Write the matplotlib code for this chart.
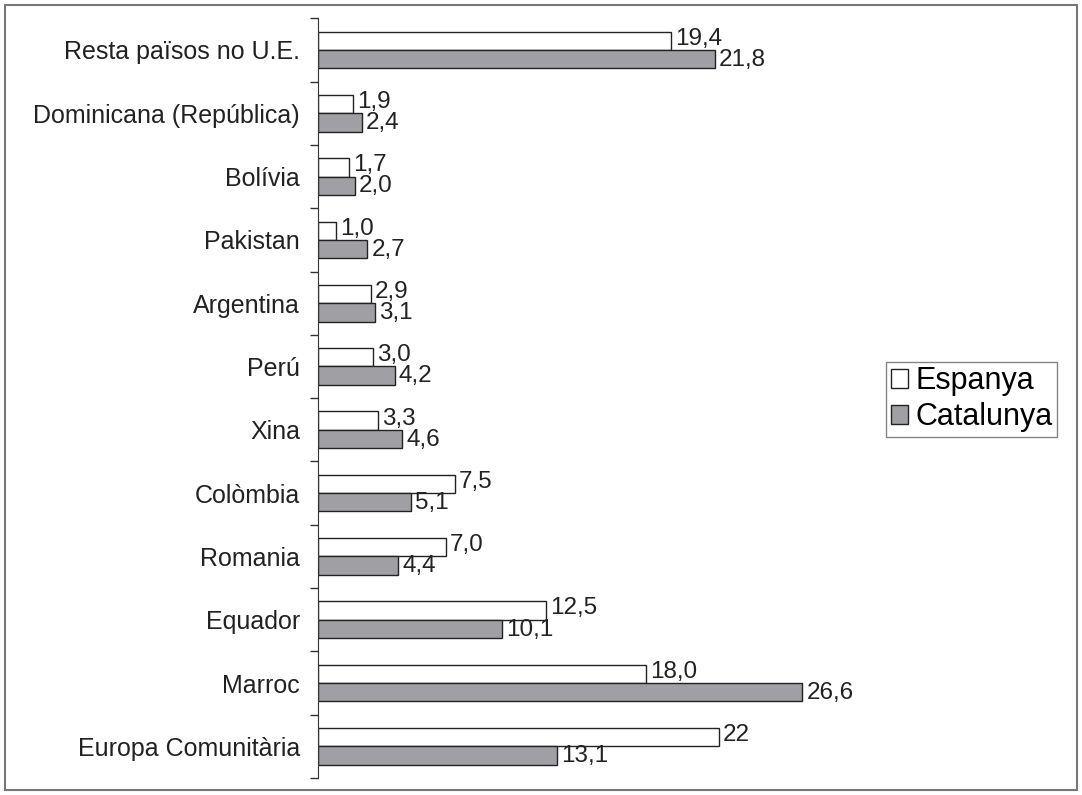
import matplotlib.pyplot as plt
from matplotlib.patches import Rectangle
import numpy as np

plt.rcParams['font.family'] = ['Liberation Sans', 'DejaVu Sans']

# categories from bottom to top
categories = ['Europa Comunitària', 'Marroc', 'Equador', 'Romania', 'Colòmbia',
              'Xina', 'Perú', 'Argentina', 'Pakistan', 'Bolívia',
              'Dominicana (República)', 'Resta països no U.E.']
espanya = [22, 18.0, 12.5, 7.0, 7.5, 3.3, 3.0, 2.9, 1.0, 1.7, 1.9, 19.4]
catalunya = [13.1, 26.6, 10.1, 4.4, 5.1, 4.6, 4.2, 3.1, 2.7, 2.0, 2.4, 21.8]
espanya_labels = ['22', '18,0', '12,5', '7,0', '7,5', '3,3', '3,0', '2,9', '1,0', '1,7', '1,9', '19,4']
catalunya_labels = ['13,1', '26,6', '10,1', '4,4', '5,1', '4,6', '4,2', '3,1', '2,7', '2,0', '2,4', '21,8']

fig = plt.figure(figsize=(10.82, 7.95), dpi=100)
ax = fig.add_axes([0.294, 0.0214, 0.673, 0.9556])

y = np.arange(len(categories))
h = 0.29
b1 = ax.barh(y + h / 2, espanya, height=h, color='white', edgecolor='#222222',
             linewidth=1.0, label='Espanya')
b2 = ax.barh(y - h / 2, catalunya, height=h, color='#a0a0a4', edgecolor='#222222',
             linewidth=1.0, label='Catalunya')

# value labels just right of each bar
for rect, lab in zip(b1, espanya_labels):
    ax.annotate(lab, (rect.get_width(), rect.get_y() + rect.get_height() / 2),
                xytext=(3, 1.5), textcoords='offset points', va='center', ha='left',
                fontsize=17.5, color='#222222')
for rect, lab in zip(b2, catalunya_labels):
    ax.annotate(lab, (rect.get_width(), rect.get_y() + rect.get_height() / 2),
                xytext=(3, -0.5), textcoords='offset points', va='center', ha='left',
                fontsize=17.5, color='#222222')

ax.set_xlim(0, 40)
ax.set_ylim(-0.5, len(categories) - 0.5)
ax.set_yticks(y)
ax.set_yticklabels(categories, fontsize=18, color='#222222')
ax.set_yticks(np.arange(-0.5, len(categories)), minor=True)
ax.tick_params(axis='y', which='major', length=0, pad=13)
ax.tick_params(axis='y', which='minor', length=6, width=1, color='#333333')
ax.set_xticks([])
for side in ['top', 'right', 'bottom']:
    ax.spines[side].set_visible(False)
ax.spines['left'].set_color('#333333')

leg = fig.legend(handles=[b1, b2], loc='upper left', bbox_to_anchor=(0.819, 0.545),
                 fontsize=22, frameon=True, fancybox=False, handlelength=0.55,
                 handleheight=0.55, handletextpad=0.25, borderpad=0.15, labelspacing=0.2,
                 borderaxespad=0)
leg.get_frame().set_edgecolor('#666666')
leg.get_frame().set_linewidth(1.0)

fig.patches.append(Rectangle((0.005, 0.006), 0.99, 0.988, transform=fig.transFigure,
                             fill=False, edgecolor='#777777', linewidth=1.5))

fig.savefig('out.png', dpi=100)
